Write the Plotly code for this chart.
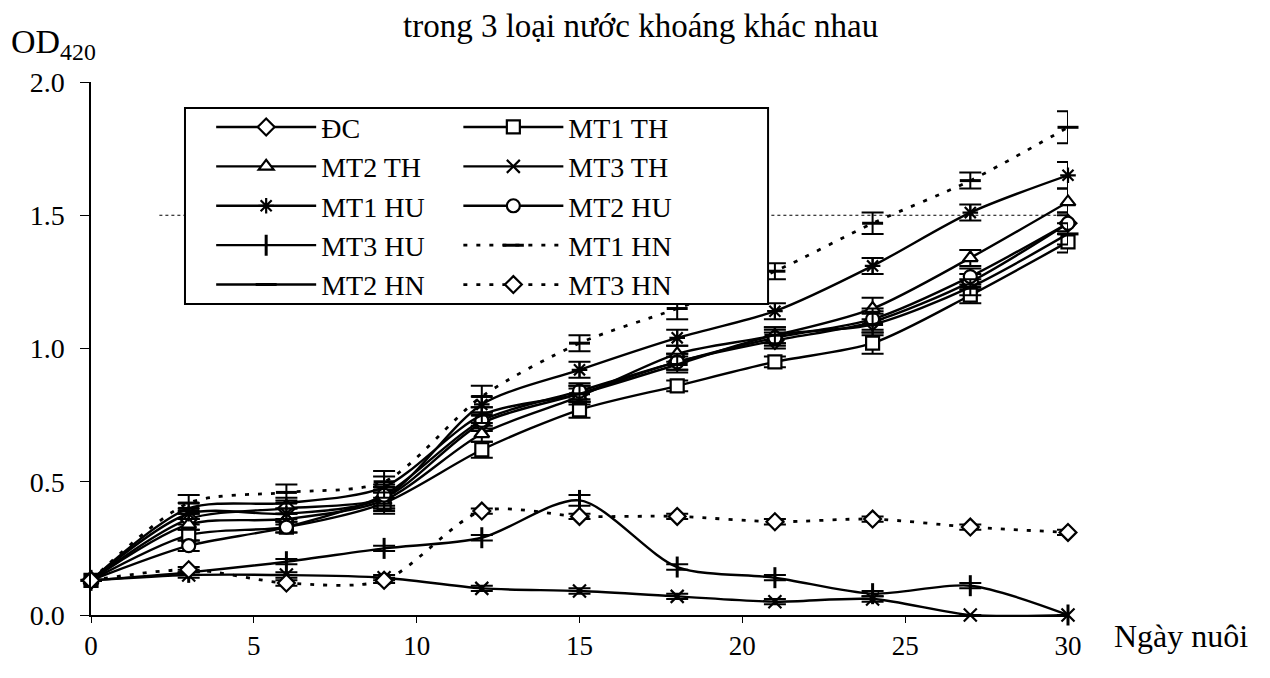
import plotly.graph_objects as go

days = [0, 3, 6, 9, 12, 15, 18, 21, 24, 27, 30]

dc     = [0.13, 0.36, 0.40, 0.44, 0.72, 0.83, 0.95, 1.03, 1.10, 1.25, 1.47]
mt1_th = [0.13, 0.30, 0.33, 0.42, 0.62, 0.77, 0.86, 0.95, 1.02, 1.20, 1.40]
mt2_th = [0.13, 0.34, 0.36, 0.43, 0.68, 0.82, 0.98, 1.05, 1.15, 1.34, 1.55]
mt3_th = [0.13, 0.15, 0.15, 0.14, 0.10, 0.09, 0.07, 0.05, 0.06, 0.00, 0.00]
mt1_hu = [0.13, 0.38, 0.38, 0.44, 0.79, 0.92, 1.04, 1.14, 1.31, 1.51, 1.65]
mt2_hu = [0.13, 0.26, 0.33, 0.45, 0.73, 0.84, 0.95, 1.04, 1.11, 1.27, 1.47]
mt3_hu = [0.13, 0.16, 0.20, 0.25, 0.29, 0.43, 0.18, 0.14, 0.08, 0.11, 0.00]
mt1_hn = [0.13, 0.42, 0.46, 0.50, 0.82, 1.02, 1.15, 1.29, 1.47, 1.63, 1.83]
mt2_hn = [0.13, 0.40, 0.42, 0.48, 0.75, 0.83, 0.94, 1.05, 1.09, 1.23, 1.43]
mt3_hn = [0.13, 0.17, 0.12, 0.13, 0.39, 0.37, 0.37, 0.35, 0.36, 0.33, 0.31]

err_dc     = [0.0, 0.02, 0.02, 0.04, 0.03, 0.03, 0.03, 0.03, 0.04, 0.03, 0.04]
err_mt1_th = [0.0, 0.02, 0.02, 0.04, 0.03, 0.03, 0.02, 0.02, 0.04, 0.03, 0.04]
err_mt2_th = [0.0, 0.02, 0.02, 0.04, 0.03, 0.03, 0.03, 0.03, 0.04, 0.03, 0.05]
err_mt3_th = [0.0, 0.01, 0.01, 0.01, 0.01, 0.01, 0.01, 0.01, 0.01, 0.00, 0.00]
err_mt1_hu = [0.0, 0.02, 0.02, 0.04, 0.03, 0.03, 0.03, 0.03, 0.03, 0.03, 0.05]
err_mt2_hu = [0.0, 0.02, 0.02, 0.04, 0.03, 0.03, 0.03, 0.03, 0.04, 0.03, 0.04]
err_mt3_hu = [0.0, 0.01, 0.01, 0.01, 0.01, 0.02, 0.01, 0.01, 0.01, 0.01, 0.00]
err_mt1_hn = [0.0, 0.03, 0.03, 0.04, 0.04, 0.03, 0.04, 0.03, 0.04, 0.03, 0.06]
err_mt2_hn = [0.0, 0.02, 0.02, 0.04, 0.03, 0.03, 0.03, 0.03, 0.04, 0.03, 0.04]
err_mt3_hn = [0.0, 0.01, 0.01, 0.01, 0.01, 0.01, 0.01, 0.01, 0.01, 0.01, 0.01]

names = ["ĐC", "MT1 TH", "MT2 TH", "MT3 TH", "MT1 HU",
         "MT2 HU", "MT3 HU", "MT1 HN", "MT2 HN", "MT3 HN"]
values = [dc, mt1_th, mt2_th, mt3_th, mt1_hu, mt2_hu, mt3_hu, mt1_hn, mt2_hn, mt3_hn]
errors = [err_dc, err_mt1_th, err_mt2_th, err_mt3_th, err_mt1_hu,
          err_mt2_hu, err_mt3_hu, err_mt1_hn, err_mt2_hn, err_mt3_hn]
symbols = ["diamond", "square", "triangle-up", "x-thin-open", "asterisk-open",
           "circle", "line-ns-open", "line-ew-open", "line-ew-open", "diamond"]
dashes = ["solid", "solid", "solid", "solid", "solid",
          "solid", "solid", "4px,9px", "solid", "4px,9px"]
legends = ["legend", "legend2", "legend", "legend2", "legend",
           "legend2", "legend", "legend2", "legend", "legend2"]

FONT = "Liberation Serif"
fig = go.Figure()

for nm, v, e, sym, dsh, lg in zip(names, values, errors, symbols, dashes, legends):
    open_sym = sym.endswith("-open")
    fig.add_trace(go.Scatter(
        x=days, y=v, name=nm, mode="lines+markers",
        line=dict(color="black", width=2.4 if dsh == "solid" else 2.8, dash=dsh,
                  shape="spline", smoothing=0.8),
        marker=dict(symbol=sym, size=13 if not sym.startswith("line") else 15,
                    color="black" if open_sym else "white",
                    line=dict(color="black", width=3 if sym.startswith("line") else 2.2)),
        error_y=dict(type="data", array=e, visible=True, color="black", thickness=2, width=11),
        cliponaxis=False,
        legend=lg,
        legendgroup=nm,
    ))

# dotted reference gridline at 1.5
fig.add_shape(type="line", xref="paper", x0=0.07, x1=1.0, yref="y", y0=1.5, y1=1.5,
              line=dict(color="black", width=1, dash="dot"), layer="below")
# legend frame
fig.add_shape(type="rect", xref="paper", yref="paper",
              x0=0.0962, x1=0.693, y0=0.5835, y1=0.951,
              line=dict(color="black", width=2), fillcolor="white", layer="above")

legend_common = dict(
    font=dict(family=FONT, size=28, color="black"),
    bgcolor="rgba(0,0,0,0)", borderwidth=0,
    itemwidth=100, traceorder="grouped", tracegroupgap=0,
    xanchor="left", yanchor="top", itemclick=False,
)

fig.update_layout(
    width=1270, height=678,
    margin=dict(l=83, r=210, t=74, b=71),
    paper_bgcolor="white", plot_bgcolor="white",
    font=dict(family=FONT, size=28, color="black"),
    showlegend=True,
    legend=dict(x=0.123, y=0.962, **legend_common),
    legend2=dict(x=0.376, y=0.962, **legend_common),
    xaxis=dict(range=[0, 30], tickvals=[0, 5, 10, 15, 20, 25, 30],
               showline=True, linecolor="black", linewidth=1.5,
               ticks="outside", ticklen=6, tickcolor="black",
               showgrid=False, zeroline=False,
               tickfont=dict(family=FONT, size=27)),
    yaxis=dict(range=[0, 2.0], tickvals=[0, 0.5, 1.0, 1.5, 2.0],
               ticktext=["0.0", "0.5", "1.0", "1.5", "2.0"],
               showline=True, linecolor="black", linewidth=1.5,
               ticks="outside", ticklen=9, tickcolor="black",
               showgrid=False, zeroline=False, ticklabelstandoff=10,
               tickfont=dict(family=FONT, size=28)),
    annotations=[
        dict(text="trong 3 loại nước khoáng khác nhau", xref="paper", yref="paper",
             x=0.562, y=1.106, xanchor="center", yanchor="middle", showarrow=False,
             borderpad=0, font=dict(family=FONT, size=33)),
        dict(text="OD<sub>420</sub>", xref="paper", yref="paper",
             x=-0.083, y=1.072, xanchor="left", yanchor="middle", showarrow=False,
             borderpad=0, font=dict(family=FONT, size=34)),
        dict(text="Ngày nuôi", xref="paper", yref="paper",
             x=1.045, y=-0.039, xanchor="left", yanchor="middle", showarrow=False,
             font=dict(family=FONT, size=32)),
    ],
)

fig.write_html("out.html")
